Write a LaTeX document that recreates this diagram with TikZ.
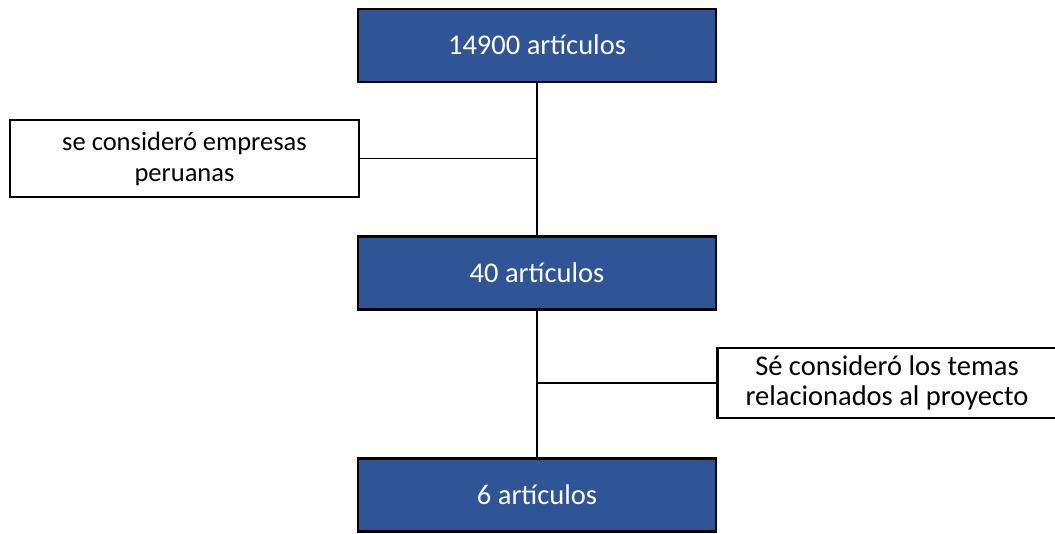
\documentclass[tikz,border=0pt]{standalone}
\usepackage{fontspec}
\setmainfont{Carlito}
\definecolor{boxblue}{HTML}{2F5597}
\begin{document}
\begin{tikzpicture}[x=1pt,y=-1pt,
  bluebox/.style={draw=black,line width=2.5pt,fill=boxblue,text=white,minimum width=358pt,minimum height=73pt,inner sep=0pt,text height=18.5pt,text depth=0pt,font=\fontsize{28.5}{30}\selectfont},
  notebox/.style={draw=black,line width=2.5pt,fill=white,text=black,inner sep=0pt,align=center},
  conn/.style={line width=1.3pt,draw=black}]
\useasboundingbox (0,0) rectangle (1055,533);
\node[bluebox] (a) at (537,45.5) {14900 artículos};
\node[bluebox] (b) at (537,273) {40 artículos};
\node[bluebox] (c) at (537,495) {6 artículos};
\node[notebox,minimum width=349pt,minimum height=77pt,font=\fontsize{26.5}{31}\selectfont] (n1) at (184.5,158.5) {se consideró empresas\\peruanas};
\node[notebox,minimum width=350pt,minimum height=70pt,anchor=west] (n2) at (716,383) {};
\node[font=\fontsize{28.5}{29.5}\selectfont,align=center,inner sep=0pt] (t2) at (887,383) {Sé consideró los temas\\relacionados al proyecto};
\coordinate (j1) at (a.south |- n1.east);
\coordinate (j2) at (b.south |- n2.west);
\draw[conn] (a.south) -- (b.north);
\draw[conn] (b.south) -- (c.north);
\draw[conn] (n1.east) -- (j1);
\draw[conn] (n2.west) -- (j2);
\end{tikzpicture}
\end{document}
